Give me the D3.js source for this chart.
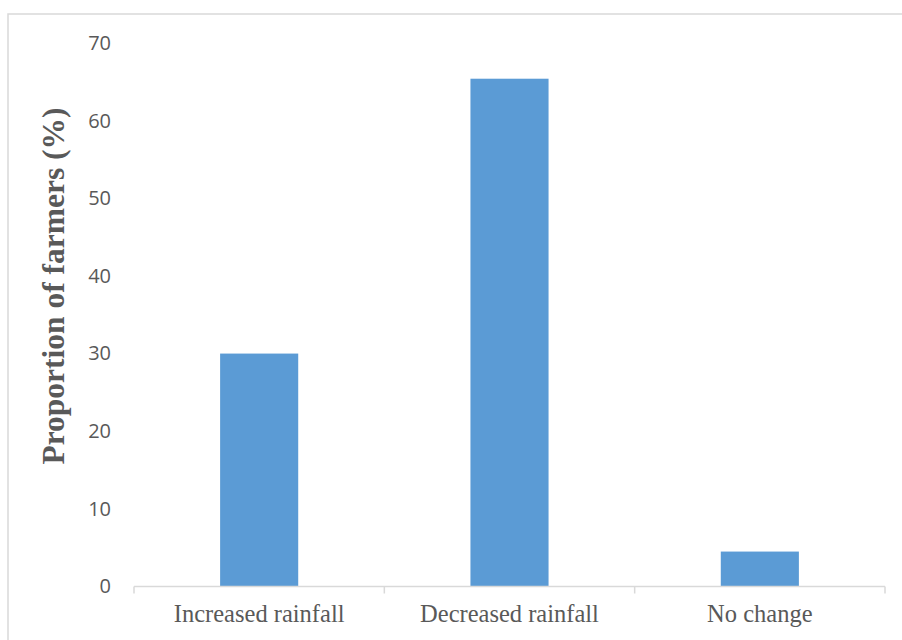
<!DOCTYPE html>
<html>
<head>
<meta charset="utf-8">
<script src="https://cdn.jsdelivr.net/npm/d3@7"></script>
<style>
  html, body { margin: 0; padding: 0; background: #fff; }
  svg { display: block; }
</style>
</head>
<body>
<svg id="chart" width="902" height="640"></svg>
<script>
// Perceived change in rainfall, share of farmers
const categories = ["Increased rainfall", "Decreased rainfall", "No change"];
const values = [30, 65.4, 4.5];
const yTicks = [0, 10, 20, 30, 40, 50, 60, 70];
const yTitle = "Proportion of farmers (%)";

const svg = d3.select("#chart");
const W = 902, H = 640;
const margin = { left: 134, right: 17, top: 43, bottom: 53.5 };

// chart frame
svg.append("rect")
  .attr("x", 8).attr("y", 14)
  .attr("width", W).attr("height", H)
  .attr("fill", "none")
  .attr("stroke", "#d9d9d9")
  .attr("stroke-width", 1.5);

const x = d3.scaleBand()
  .domain(categories)
  .range([margin.left, W - margin.right])
  .paddingInner(0.688)
  .paddingOuter(0.344);

const xEdges = d3.scaleBand()
  .domain(categories)
  .range([margin.left, W - margin.right]);

const y = d3.scaleLinear()
  .domain([0, 70])
  .range([H - margin.bottom, margin.top]);

// y tick labels (no axis line)
const yAxis = svg.append("g")
  .attr("transform", `translate(${margin.left},0)`)
  .call(d3.axisLeft(y).tickValues(yTicks).tickSize(0).tickPadding(23));
yAxis.select(".domain").remove();
yAxis.selectAll("text")
  .attr("font-family", "'Open Sans', 'Noto Sans', sans-serif")
  .attr("font-size", 20)
  .attr("fill", "#595959");

// bars
svg.append("g").selectAll("rect")
  .data(values)
  .join("rect")
  .attr("x", (d, i) => x(categories[i]))
  .attr("width", x.bandwidth())
  .attr("y", d => y(d))
  .attr("height", d => y(0) - y(d))
  .attr("fill", "#5b9bd5");

// category axis with ticks at band boundaries
const baseY = y(0);
const xg = svg.append("g");
xg.append("line")
  .attr("x1", margin.left).attr("x2", W - margin.right)
  .attr("y1", baseY).attr("y2", baseY)
  .attr("stroke", "#d9d9d9").attr("stroke-width", 1.5);
const edges = categories.map(c => xEdges(c)).concat([W - margin.right]);
xg.selectAll("line.tick")
  .data(edges)
  .join("line")
  .attr("class", "tick")
  .attr("x1", d => d).attr("x2", d => d)
  .attr("y1", baseY).attr("y2", baseY + 7)
  .attr("stroke", "#d9d9d9").attr("stroke-width", 1.5);
xg.selectAll("text")
  .data(categories)
  .join("text")
  .attr("x", d => xEdges(d) + xEdges.bandwidth() / 2)
  .attr("y", 622)
  .attr("text-anchor", "middle")
  .attr("font-family", "'Liberation Serif', 'Times New Roman', serif")
  .attr("font-size", 24.5)
  .attr("fill", "#595959")
  .text(d => d);

// y axis title
svg.append("text")
  .attr("transform", `translate(64,286) rotate(-90)`)
  .attr("text-anchor", "middle")
  .attr("font-family", "'Liberation Serif', 'Times New Roman', serif")
  .attr("font-weight", "bold")
  .attr("font-size", 31.5)
  .attr("fill", "#595959")
  .text(yTitle);
</script>
</body>
</html>
